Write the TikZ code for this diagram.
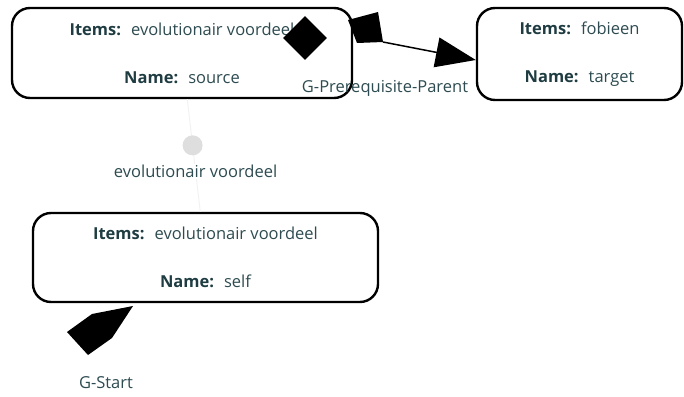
\documentclass[tikz,border=0pt]{standalone}
\usepackage{fontspec}
\setmainfont{Open Sans}
\usepackage{xcolor}
\usetikzlibrary{shapes.geometric,arrows.meta,positioning}
\definecolor{labeltext}{RGB}{45,75,80}
\definecolor{keytext}{RGB}{30,60,65}
\definecolor{faintline}{RGB}{242,242,242}
\definecolor{dotgray}{RGB}{222,222,222}
\tikzset{
  objbox/.style  = {draw, line width=2.4pt, rounded corners=18pt,
                    text=labeltext, font=\fontsize{16.5}{20}\selectfont,
                    align=center, inner sep=0pt},
  edgelbl/.style = {text=labeltext, font=\fontsize{16.5}{20}\selectfont,
                    inner sep=1pt},
  blackmark/.style = {fill=black, draw=none},
  arr/.style     = {-{Triangle[length=40pt,width=30pt]}, line width=1.5pt},
  faint/.style   = {draw=faintline, line width=1pt}
}
\newcommand{\keyval}[2]{{\color{keytext}\bfseries #1:}~ #2}

\begin{document}
\begin{tikzpicture}[x=1pt,y=-1pt]
\useasboundingbox (0,0) rectangle (684,396);
% objects
\node[objbox, minimum width=340pt, minimum height=90pt] (source) at (182,53)
      {\keyval{Items}{evolutionair voordeel}\\[28pt]\keyval{Name}{source}};
\node[objbox, minimum width=205pt, minimum height=92pt] (target) at (579.5,54)
      {\keyval{Items}{fobieen}\\[28pt]\keyval{Name}{target}};
\node[objbox, minimum width=345pt, minimum height=89pt] (self) at (205.5,257.5)
      {\keyval{Items}{evolutionair voordeel}\\[28pt]\keyval{Name}{self}};
% item link
\draw[faint] (source) -- node[pos=0.41, circle, fill=dotgray, minimum size=20pt,
      inner sep=0pt] (itemdot) {}
      node[pos=0.64, edgelbl, fill=white] (itemlbl) {evolutionair voordeel} (self);
% prerequisite edge
\node[diamond, blackmark, minimum width=44pt, minimum height=44pt, inner sep=0pt]
      (prqdiamond) at (305,38) {};
\coordinate (prqstart) at (383,42);
\fill[blackmark] (348,20) -- (378,12) -- (prqstart) -- (357,43) -- cycle;
\draw[arr] (prqstart) -- ([yshift=-6pt]target.west);
\node[edgelbl] (prqlbl) at (385,88) {G-Prerequisite-Parent};
% start marker
\coordinate (startpt) at (133,306);
\fill[blackmark] (startpt) -- (92,314) -- (67,332) -- (88,355) -- (112,338) -- cycle;
\node[edgelbl] (startlbl) at (106,383) {G-Start};
\end{tikzpicture}
\end{document}
